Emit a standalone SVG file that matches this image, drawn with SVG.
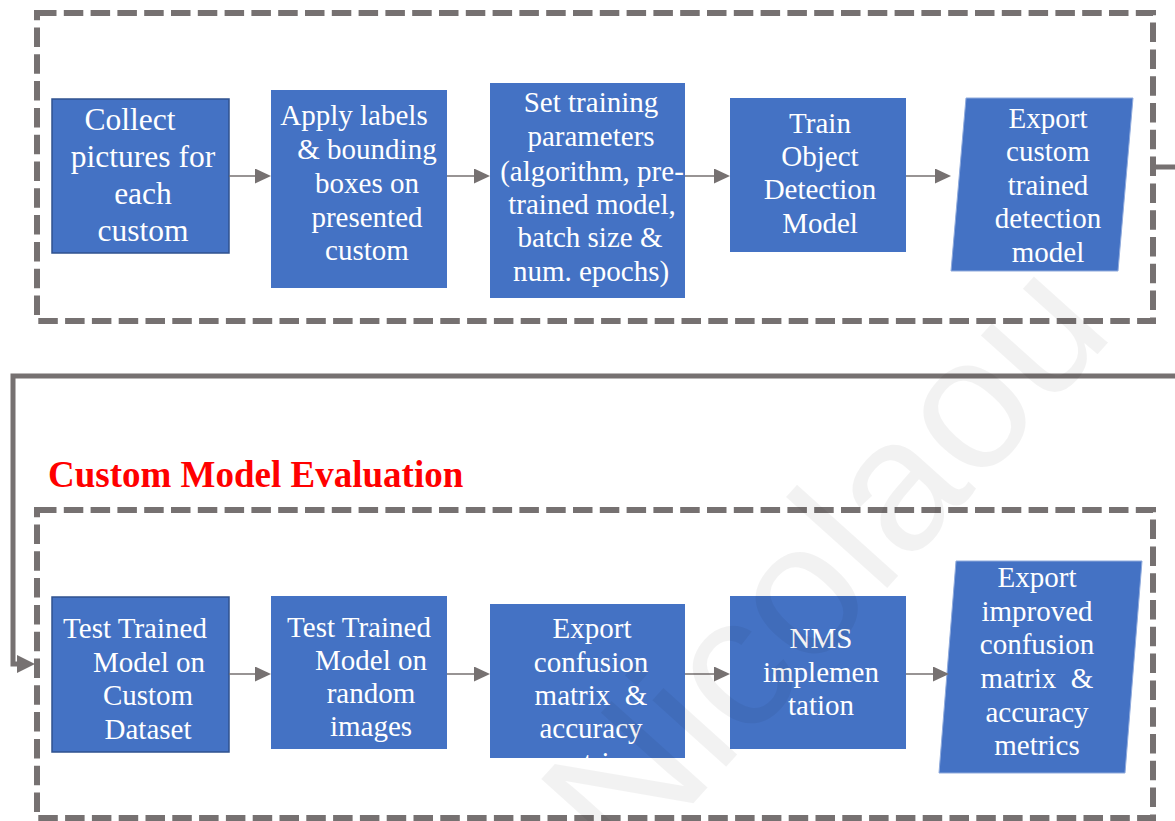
<svg xmlns="http://www.w3.org/2000/svg" width="1175" height="821" viewBox="0 0 1175 821">
  <style>
    .frame { fill: none; stroke: #767171; stroke-width: 6; stroke-dasharray: 19.5 7.3; }
    .box { fill: #4472C4; }
    .edge { stroke: #2F528F; stroke-width: 1.5; }
    .para { fill: #4472C4; stroke: #8FAADC; stroke-width: 1; }
    .lbl { font-family: "Liberation Serif", "Times New Roman", serif; font-size: 29px; fill: #FFFFFF; text-anchor: middle; }
    .big { font-size: 31.5px; }
    .flow { stroke: #767171; stroke-width: 1.5; fill: none; marker-end: url(#arr); }
    .link { stroke: #767171; stroke-width: 5; fill: none; stroke-linejoin: miter; marker-end: url(#arrBig); }
    .title { font-family: "Liberation Serif", "Times New Roman", serif; font-weight: bold; font-size: 37px; fill: #FF0000; }
    .wm { font-family: "Liberation Sans", Arial, sans-serif; font-size: 188px; fill: #000000; fill-opacity: 0.05; }
  </style>
  <defs>
    <marker id="arr" markerUnits="userSpaceOnUse" markerWidth="16" markerHeight="15" viewBox="0 0 16 15" refX="0" refY="7.5" orient="auto">
      <path d="M0,0 L16,7.5 L0,15 Z" fill="#767171"/>
    </marker>
    <marker id="arrBig" markerUnits="userSpaceOnUse" markerWidth="18" markerHeight="18" viewBox="0 0 18 18" refX="0" refY="9" orient="auto">
      <path d="M0,0 L18,9 L0,18 Z" fill="#767171"/>
    </marker>
  </defs>

  <rect width="1175" height="821" fill="#FFFFFF"/>

  <!-- stage frames -->
  <g id="frames">
    <rect class="frame" x="37" y="13" width="1116" height="308"/>
    <rect class="frame" x="37" y="510" width="1116" height="308"/>
  </g>

  <text class="title" x="48" y="487">Custom Model Evaluation</text>

  <!-- training pipeline -->
  <g id="collect">
    <rect class="box edge" x="52" y="99" width="177" height="154"/>
    <text class="lbl big"><tspan x="130" y="130">Collect</tspan><tspan x="143" y="167">pictures for</tspan><tspan x="143" y="204">each</tspan><tspan x="143" y="241">custom</tspan></text>
  </g>
  <g id="label">
    <rect class="box" x="271" y="90" width="176" height="198"/>
    <text class="lbl"><tspan x="354" y="125">Apply labels</tspan><tspan x="367" y="159">&amp; bounding</tspan><tspan x="367" y="193">boxes on</tspan><tspan x="367" y="227">presented</tspan><tspan x="367" y="260">custom</tspan></text>
  </g>
  <g id="params">
    <rect class="box" x="490" y="83" width="195" height="215"/>
    <text class="lbl"><tspan x="591" y="112">Set training</tspan><tspan x="591" y="146">parameters</tspan><tspan x="592" y="181">(algorithm, pre-</tspan><tspan x="592" y="214">trained model,</tspan><tspan x="590" y="247">batch size &amp;</tspan><tspan x="591" y="281">num. epochs)</tspan></text>
  </g>
  <g id="train">
    <rect class="box" x="730" y="98" width="176" height="154"/>
    <text class="lbl"><tspan x="820" y="133">Train</tspan><tspan x="820" y="166">Object</tspan><tspan x="820" y="199">Detection</tspan><tspan x="820" y="233">Model</tspan></text>
  </g>
  <g id="export-model">
    <polygon class="para" points="966,98 1133,98 1118,271 951,271"/>
    <text class="lbl"><tspan x="1048" y="128">Export</tspan><tspan x="1048" y="161">custom</tspan><tspan x="1048" y="195">trained</tspan><tspan x="1048" y="228">detection</tspan><tspan x="1048" y="262">model</tspan></text>
  </g>

  <!-- evaluation pipeline -->
  <g id="test-custom">
    <rect class="box edge" x="52" y="597" width="177" height="155"/>
    <text class="lbl"><tspan x="135" y="638">Test Trained</tspan><tspan x="149" y="672">Model on</tspan><tspan x="148" y="705">Custom</tspan><tspan x="148" y="739">Dataset</tspan></text>
  </g>
  <g id="test-random">
    <rect class="box" x="271" y="596" width="176" height="153"/>
    <text class="lbl"><tspan x="359" y="637">Test Trained</tspan><tspan x="371" y="670">Model on</tspan><tspan x="371" y="703">random</tspan><tspan x="371" y="736">images</tspan></text>
  </g>
  <g id="export-confusion">
    <rect class="box" x="490" y="604" width="195" height="154"/>
    <text class="lbl"><tspan x="592" y="638">Export</tspan><tspan x="591" y="672">confusion</tspan><tspan x="591" y="705">matrix&#160; &amp;</tspan><tspan x="591" y="738">accuracy</tspan><tspan x="591" y="772">metrics</tspan></text>
  </g>
  <g id="nms">
    <rect class="box" x="730" y="596" width="176" height="153"/>
    <text class="lbl"><tspan x="821" y="648">NMS</tspan><tspan x="821" y="682">implemen</tspan><tspan x="821" y="715">tation</tspan></text>
  </g>
  <g id="export-improved">
    <polygon class="para" points="956,561 1142,561 1125,773 939,773"/>
    <text class="lbl"><tspan x="1037" y="587">Export</tspan><tspan x="1037" y="621">improved</tspan><tspan x="1037" y="654">confusion</tspan><tspan x="1037" y="688">matrix&#160; &amp;</tspan><tspan x="1037" y="722">accuracy</tspan><tspan x="1037" y="755">metrics</tspan></text>
  </g>

  <!-- connectors -->
  <g id="connectors">
    <line class="flow" x1="229" y1="176" x2="255" y2="176"/>
    <line class="flow" x1="447" y1="176" x2="474" y2="176"/>
    <line class="flow" x1="685" y1="176" x2="714" y2="176"/>
    <line class="flow" x1="906" y1="176" x2="935" y2="176"/>
    <line class="flow" x1="229" y1="674" x2="255" y2="674"/>
    <line class="flow" x1="447" y1="674" x2="474" y2="674"/>
    <line class="flow" x1="685" y1="674" x2="714" y2="674"/>
    <line class="flow" x1="906" y1="674" x2="933" y2="674"/>
    <path class="link" d="M1153,167 H1190 V376 H13 V664 H17"/>
  </g>

  <text class="wm" transform="translate(627,877) rotate(-48)">Nicolaou</text>
</svg>
